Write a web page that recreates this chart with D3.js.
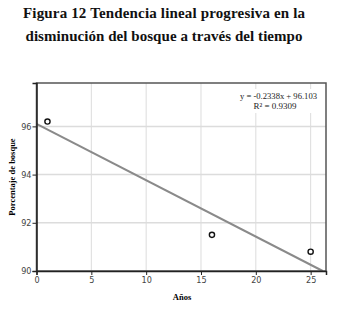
<!DOCTYPE html>
<html>
<head>
<meta charset="utf-8">
<script src="https://cdn.jsdelivr.net/npm/d3@7"></script>
<style>
  body { margin: 0; background: #fff; }
  .serif { font-family: "Liberation Serif", "Times New Roman", Times, serif; }
  .narrow { font-family: "DejaVu Sans Condensed", "Liberation Sans", sans-serif; }
</style>
</head>
<body>
<svg id="mySvg"></svg>
<script>
// data
const years = [1, 16, 25];
const forest = [96.2, 91.5, 90.8];
const xTicks = [0, 5, 10, 15, 20, 25];
const yTicks = [90, 92, 94, 96];
const fitSlope = -0.2338, fitIntercept = 96.103;
const fitLabels = ["y = -0.2338x + 96.103", "R\u00b2 = 0.9309"];
const titleLines = ["Figura 12 Tendencia lineal progresiva en la", "disminución del bosque a través del tiempo"];

const width = 340, height = 313, margin = { top: 83, right: 14, bottom: 42, left: 36.5 };

const svg = d3.select("#mySvg").attr("width", width).attr("height", height);

const x = d3.scaleLinear().domain([0, 26.4]).range([margin.left, width - margin.right]);
const y = d3.scaleLinear().domain([90, 97.8]).range([height - margin.bottom, margin.top]);

// title
svg.selectAll("text.title").data(titleLines).enter().append("text")
   .attr("class", "title serif")
   .attr("x", 164).attr("y", (d, i) => 18 + i * 23)
   .attr("text-anchor", "middle")
   .attr("font-weight", "bold").attr("font-size", "15px").attr("fill", "#111")
   .attr("textLength", (d, i) => i ? 277 : 282)
   .text(d => d);

// grid
svg.append("g").selectAll("line").data(xTicks.slice(1)).enter().append("line")
   .attr("x1", d => x(d)).attr("x2", d => x(d))
   .attr("y1", y.range()[1]).attr("y2", y.range()[0])
   .attr("stroke", "#dcdcdc").attr("stroke-width", 1);
svg.append("g").selectAll("line").data(yTicks.slice(1)).enter().append("line")
   .attr("x1", x.range()[0]).attr("x2", x.range()[1])
   .attr("y1", d => y(d)).attr("y2", d => y(d))
   .attr("stroke", "#dcdcdc").attr("stroke-width", 1.5);

// fit line, from x = 0 to where it meets the bottom
const xEnd = (90 - fitIntercept) / fitSlope;
svg.append("line")
   .attr("x1", x(0)).attr("y1", y(fitIntercept))
   .attr("x2", x(xEnd)).attr("y2", y(fitSlope * xEnd + fitIntercept))
   .attr("stroke", "#8a8a8a").attr("stroke-width", 2);

// equation box
const eq = svg.append("g");
eq.append("rect").attr("x", 238).attr("y", 89).attr("width", 82).attr("height", 24).attr("fill", "#fff");
eq.selectAll("text").data(fitLabels).enter().append("text")
   .attr("class", "serif")
   .attr("x", (d, i) => i ? 275 : 278.5).attr("y", (d, i) => 98.5 + i * 10)
   .attr("text-anchor", "middle")
   .attr("font-size", "9px").attr("fill", "#222")
   .attr("textLength", (d, i) => i ? 43 : 77).attr("lengthAdjust", "spacingAndGlyphs")
   .text(d => d);

// frame
svg.append("rect")
   .attr("x", x.range()[0]).attr("y", y.range()[1])
   .attr("width", x.range()[1] - x.range()[0]).attr("height", y.range()[0] - y.range()[1])
   .attr("fill", "none").attr("stroke", "#555").attr("stroke-width", 1.5);

// points
svg.selectAll("circle").data(years).enter().append("circle")
   .attr("cx", d => x(d)).attr("cy", (d, i) => y(forest[i]))
   .attr("r", 2.6).attr("fill", "#fff").attr("stroke", "#111").attr("stroke-width", 1.4);

// axes
const xAxis = svg.append("g").attr("transform", `translate(0,${y.range()[0]})`)
   .call(d3.axisBottom(x).tickValues(xTicks).tickSize(4).tickPadding(2));
const yAxis = svg.append("g").attr("transform", `translate(${x.range()[0]},0)`)
   .call(d3.axisLeft(y).tickValues(yTicks).tickSize(4).tickPadding(1));
[xAxis, yAxis].forEach(a => {
  a.attr("font-family", null);
  a.select(".domain").attr("stroke", "#222").attr("stroke-width", 1.5);
  a.selectAll(".tick line").attr("stroke", "#222");
  a.selectAll(".tick text").attr("class", "narrow")
   .attr("font-size", "9px").attr("fill", "#444");
});

// axis labels
svg.append("text").attr("class", "serif").attr("text-anchor", "middle").attr("x", 182).attr("y", 300)
   .attr("font-weight", "bold").attr("font-size", "8.5px")
   .text("Años");
svg.append("text").attr("class", "serif").attr("text-anchor", "middle").attr("transform", "rotate(-90)")
   .attr("x", -177).attr("y", 15)
   .attr("font-weight", "bold").attr("font-size", "8.5px")
   .text("Porcentaje de bosque");
</script>
</body>
</html>
